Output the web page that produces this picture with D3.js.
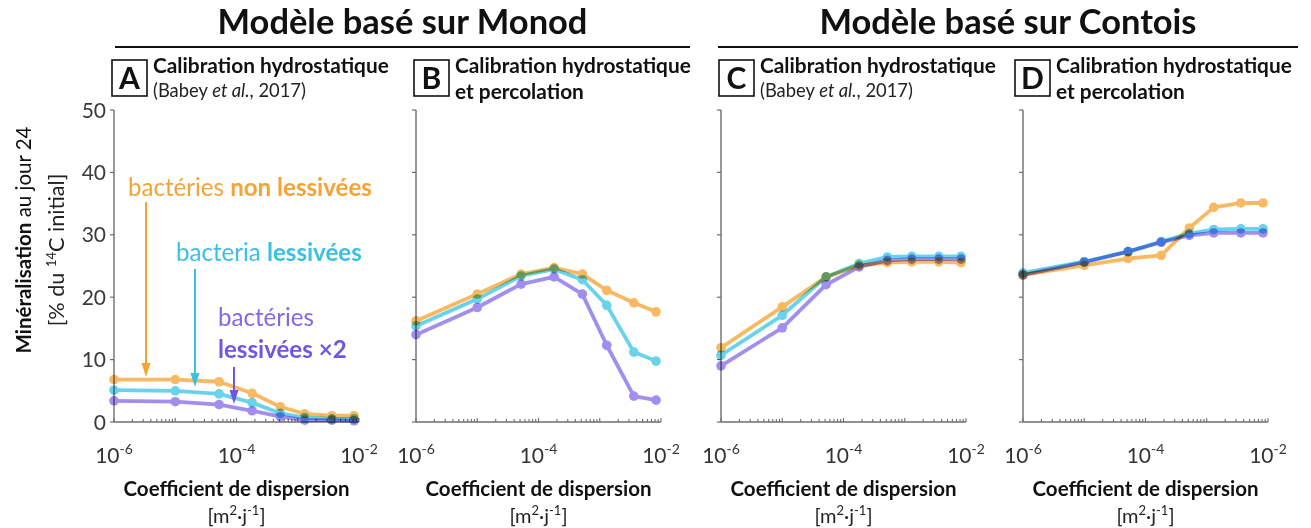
<!DOCTYPE html>
<html>
<head>
<meta charset="utf-8">
<script src="https://cdn.jsdelivr.net/npm/d3@7"></script>
<style>
  html, body { margin: 0; padding: 0; background: #fff; }
  svg { display: block; font-family: Lato, "Open Sans", sans-serif; }
</style>
</head>
<body>
<svg id="chart" width="1311" height="528"></svg>
<script>
// Dispersion coefficients simulated in every panel (m²·j⁻¹)
const dispersion = [1e-6, 1e-5, 5.2e-5, 1.8e-4, 5.2e-4, 1.3e-3, 3.6e-3, 8.3e-3];

// Mineralisation at day 24 (% of initial 14C)
// A — Monod model, hydrostatic calibration
const monodHydroNonLeached = [6.8, 6.8, 6.45, 4.6, 2.45, 1.3, 1.0, 1.0];
const monodHydroLeached    = [5.1, 5.0, 4.5, 3.1, 1.4, 0.7, 0.5, 0.5];
const monodHydroLeachedX2  = [3.4, 3.25, 2.8, 1.8, 0.85, 0.3, 0.3, 0.2];
// B — Monod model, hydrostatic + percolation calibration
const monodPercNonLeached  = [16.2, 20.5, 23.7, 24.75, 23.7, 21.1, 19.1, 17.65];
const monodPercLeached     = [15.4, 19.7, 23.4, 24.5, 22.8, 18.7, 11.2, 9.76];
const monodPercLeachedX2   = [14.0, 18.35, 22.1, 23.25, 20.5, 12.3, 4.15, 3.5];
// C — Contois model, hydrostatic calibration
const contoisHydroNonLeached = [11.9, 18.45, 23.25, 25.1, 25.55, 25.65, 25.65, 25.55];
const contoisHydroLeached    = [10.7, 17.1, 23.25, 25.4, 26.45, 26.55, 26.55, 26.55];
const contoisHydroLeachedX2  = [9.0, 15.1, 22.0, 24.85, 25.9, 26.1, 26.1, 26.1];
// D — Contois model, hydrostatic + percolation calibration
const contoisPercNonLeached  = [23.56, 25.1, 26.2, 26.7, 31.1, 34.4, 35.1, 35.1];
const contoisPercLeached     = [23.9, 25.7, 27.3, 28.9, 30.2, 30.85, 30.95, 30.95];
const contoisPercLeachedX2   = [23.56, 25.6, 27.3, 28.8, 29.9, 30.3, 30.3, 30.3];

const panelLetters = ["A", "B", "C", "D"];
const panelTitleLine1 = ["Calibration hydrostatique", "Calibration hydrostatique", "Calibration hydrostatique", "Calibration hydrostatique"];
const panelTitleLine2 = ["(Babey et al., 2017)", "et percolation", "(Babey et al., 2017)", "et percolation"];
const modelTitles = ["Modèle basé sur Monod", "Modèle basé sur Contois"];
const yTicks = [0, 10, 20, 30, 40, 50];
const xLabelExponents = [-6, -4, -2];

const panelSeries = [
  [monodHydroNonLeached, monodHydroLeached, monodHydroLeachedX2],
  [monodPercNonLeached, monodPercLeached, monodPercLeachedX2],
  [contoisHydroNonLeached, contoisHydroLeached, contoisHydroLeachedX2],
  [contoisPercNonLeached, contoisPercLeached, contoisPercLeachedX2]
];

const colors = ["#f7a83a", "#42c8e6", "#8a71ea"];
const textColors = { orange: "#f3a433", cyan: "#3bc0e4", purple: "#8468e6", purpleDark: "#7056e2" };

// ---- layout ----
const svg = d3.select("#chart");
const panelX = [114, 416, 721, 1023];
const panelW = 245;
const yTop = 110, yBottom = 422;
const axisColor = "#6e6e6e";

const y = d3.scaleLinear().domain([0, 50]).range([yBottom, yTop]);

// scale a text element's font size so its rendered width equals target
function fitWidth(sel, target) {
  const w = sel.node().getComputedTextLength();
  const fs = parseFloat(sel.attr("font-size"));
  const nfs = fs * target / w;
  sel.attr("font-size", nfs);
  return nfs;
}

// ---- model titles with rules ----
const titleSpans = [[115, 690], [718, 1298]];
let titleSize = null;
modelTitles.forEach((t, i) => {
  const [a, b] = titleSpans[i];
  const tx = svg.append("text")
    .attr("x", (a + b) / 2).attr("y", 34)
    .attr("text-anchor", "middle")
    .attr("font-weight", "bold")
    .attr("font-size", 30)
    .attr("fill", "#111")
    .text(t);
  if (titleSize === null) titleSize = fitWidth(tx, 370);
  else tx.attr("font-size", titleSize);
  svg.append("line")
    .attr("x1", a).attr("x2", b).attr("y1", 47).attr("y2", 47)
    .attr("stroke", "#111").attr("stroke-width", 2);
});

// ---- panels ----
let subSize = null, babeySize = null, xlabSize = null;
panelSeries.forEach((series, p) => {
  const x0 = panelX[p];
  const x = d3.scaleLog().domain([1e-6, 1e-2]).range([x0, x0 + panelW]);
  const g = svg.append("g");

  // letter box
  const bx = p === 3 ? x0 - 8 : x0 - 2;
  g.append("rect")
    .attr("x", bx).attr("y", 60).attr("width", 35).attr("height", 36)
    .attr("fill", "none").attr("stroke", "#111").attr("stroke-width", 1.6);
  g.append("text")
    .attr("x", bx + 17.5).attr("y", 89)
    .attr("text-anchor", "middle")
    .attr("font-weight", "bold").attr("font-size", 30).attr("fill", "#111")
    .text(panelLetters[p]);

  // panel title
  const tx = bx + 41;
  const t1 = g.append("text")
    .attr("x", tx).attr("y", 73)
    .attr("font-weight", "bold").attr("font-size", 17).attr("fill", "#111")
    .text(panelTitleLine1[p]);
  if (subSize === null) subSize = fitWidth(t1, 236);
  else t1.attr("font-size", subSize);

  if (panelTitleLine2[p].startsWith("(")) {
    const t2 = g.append("text")
      .attr("x", tx).attr("y", 97)
      .attr("font-size", 15).attr("fill", "#222");
    t2.append("tspan").text("(Babey ");
    t2.append("tspan").attr("font-style", "italic").text("et al.");
    t2.append("tspan").text(", 2017)");
    if (babeySize === null) babeySize = fitWidth(t2, 153);
    else t2.attr("font-size", babeySize);
  } else {
    g.append("text")
      .attr("x", tx).attr("y", 99)
      .attr("font-weight", "bold").attr("font-size", subSize).attr("fill", "#111")
      .text(panelTitleLine2[p]);
  }

  // y axis
  g.append("line")
    .attr("x1", x0).attr("x2", x0).attr("y1", yTop).attr("y2", yBottom)
    .attr("stroke", axisColor).attr("stroke-width", 1.4);
  yTicks.forEach(v => {
    g.append("line")
      .attr("x1", x0 - 4).attr("x2", x0).attr("y1", y(v)).attr("y2", y(v))
      .attr("stroke", axisColor).attr("stroke-width", 1.2);
    if (p === 0) {
      g.append("text")
        .attr("x", x0 - 8).attr("y", y(v) + 7.5)
        .attr("text-anchor", "end")
        .attr("font-size", 21).attr("fill", "#3a3a3a")
        .text(v);
    }
  });

  // x axis with log ticks
  g.append("line")
    .attr("x1", x0).attr("x2", x0 + panelW).attr("y1", yBottom).attr("y2", yBottom)
    .attr("stroke", axisColor).attr("stroke-width", 1.4);
  const logTicks = x.ticks();
  logTicks.forEach(t => {
    const major = Math.abs(Math.log10(t) - Math.round(Math.log10(t))) < 1e-9;
    g.append("line")
      .attr("x1", x(t)).attr("x2", x(t))
      .attr("y1", yBottom).attr("y2", yBottom - (major ? 4 : 3))
      .attr("stroke", axisColor).attr("stroke-width", 1.1);
  });
  xLabelExponents.forEach(e => {
    const lt = g.append("text")
      .attr("x", x(Math.pow(10, e))).attr("y", 463)
      .attr("text-anchor", "middle")
      .attr("font-size", 21).attr("fill", "#333");
    lt.append("tspan").text("10");
    lt.append("tspan").attr("dy", -9).attr("font-size", 14).text(String(e));
  });

  // x axis title
  const cx = x0 + panelW / 2;
  const xl = g.append("text")
    .attr("x", cx).attr("y", 496)
    .attr("text-anchor", "middle")
    .attr("font-weight", "bold").attr("font-size", 20).attr("fill", "#111")
    .text("Coefficient de dispersion");
  if (xlabSize === null) xlabSize = fitWidth(xl, 226);
  else xl.attr("font-size", xlabSize);
  const unit = g.append("text")
    .attr("x", cx).attr("y", 523)
    .attr("text-anchor", "middle")
    .attr("font-size", 20).attr("fill", "#222");
  unit.append("tspan").text("[m");
  unit.append("tspan").attr("dy", -8).attr("font-size", 13).text("2");
  unit.append("tspan").attr("dy", 8).text("·j");
  unit.append("tspan").attr("dy", -8).attr("font-size", 13).text("-1");
  unit.append("tspan").attr("dy", 8).text("]");

  // series lines + markers
  const line = d3.line()
    .x((d, i) => x(dispersion[i]))
    .y(d => y(d));
  series.forEach((vals, s) => {
    const sg = g.append("g")
      .style("mix-blend-mode", "multiply")
      .attr("opacity", 0.8);
    sg.append("path")
      .datum(vals)
      .attr("d", line)
      .attr("fill", "none")
      .attr("stroke", colors[s])
      .attr("stroke-width", 3.8)
      .attr("stroke-linejoin", "round");
    sg.selectAll("circle")
      .data(vals)
      .join("circle")
      .attr("cx", (d, i) => x(dispersion[i]))
      .attr("cy", d => y(d))
      .attr("r", 4.8)
      .attr("fill", colors[s]);
  });

  // series annotations in panel A
  if (p === 0) {
    const arrow = (ax, y1, y2, col) => {
      g.append("line")
        .attr("x1", ax).attr("x2", ax).attr("y1", y1).attr("y2", y2 - 12)
        .attr("stroke", col).attr("stroke-width", 2);
      g.append("path")
        .attr("d", `M${ax - 4.5},${y2 - 14} L${ax + 4.5},${y2 - 14} L${ax},${y2} Z`)
        .attr("fill", col);
    };
    const a1 = g.append("text")
      .attr("x", 128).attr("y", 196).attr("font-size", 21).attr("fill", textColors.orange);
    a1.append("tspan").text("bactéries ");
    a1.append("tspan").attr("font-weight", "bold").text("non lessivées");
    const annSize = fitWidth(a1, 244);

    const a2 = g.append("text")
      .attr("x", 176).attr("y", 261).attr("font-size", annSize).attr("fill", textColors.cyan);
    a2.append("tspan").text("bacteria ");
    a2.append("tspan").attr("font-weight", "bold").text("lessivées");

    g.append("text")
      .attr("x", 218).attr("y", 326).attr("font-size", annSize).attr("fill", textColors.purple)
      .text("bactéries");
    g.append("text")
      .attr("x", 218).attr("y", 358).attr("font-size", annSize)
      .attr("font-weight", "bold").attr("fill", textColors.purpleDark)
      .text("lessivées ×2");

    arrow(146, 202, 377, textColors.orange);
    arrow(195, 269, 387, textColors.cyan);
    arrow(234, 367, 404, textColors.purpleDark);
  }
});

// ---- y axis title ----
const yl1 = svg.append("text")
  .attr("transform", "translate(31,240) rotate(-90)")
  .attr("text-anchor", "middle")
  .attr("font-size", xlabSize).attr("fill", "#111");
yl1.append("tspan").attr("font-weight", "bold").text("Minéralisation");
yl1.append("tspan").text(" au jour 24");

const yl2 = svg.append("text")
  .attr("transform", "translate(64,250) rotate(-90)")
  .attr("text-anchor", "middle")
  .attr("font-size", 19).attr("fill", "#222");
yl2.append("tspan").text("[% du ");
yl2.append("tspan").attr("dy", -8).attr("font-size", 13).text("14");
yl2.append("tspan").attr("dy", 8).text("C initial]");
fitWidth(yl2, 155);
</script>
</body>
</html>
